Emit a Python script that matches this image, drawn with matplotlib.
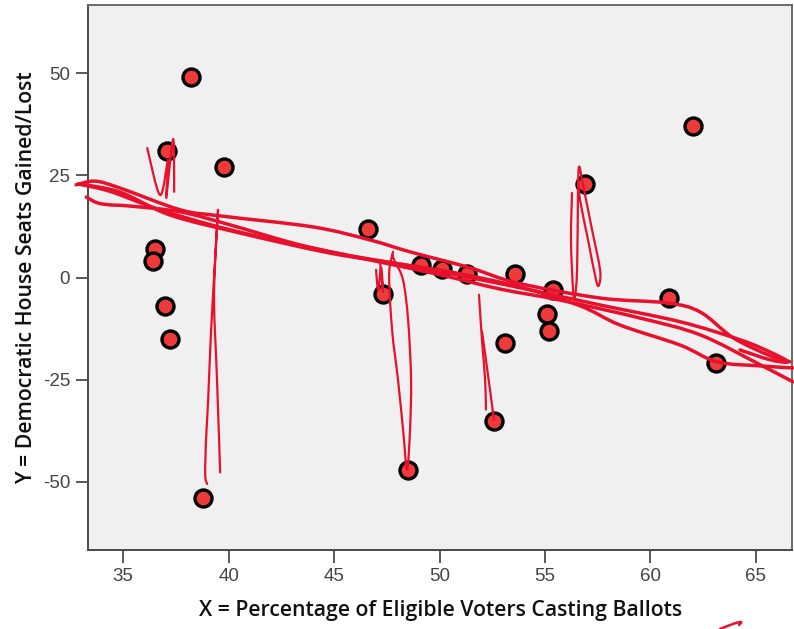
import matplotlib
matplotlib.use("Agg")
import matplotlib.pyplot as plt
from matplotlib.path import Path
from matplotlib.patches import PathPatch

# turnout (%) vs democratic house seats gained/lost
turnout = [38.2, 37.1, 39.8, 46.6, 36.5, 36.4, 37.0, 37.2, 38.8, 47.3, 48.5,
           49.1, 50.1, 51.3, 53.6, 55.4, 55.1, 55.2, 53.1, 52.6, 56.9, 62.0,
           60.9, 63.1]
seats = [49, 31, 27, 12, 7, 4, -7, -15, -54, -4, -47,
         3, 2, 1, 1, -3, -9, -13, -16, -35, 23, 37,
         -5, -21]

x_ticks = [35, 40, 45, 50, 55, 60, 65]
y_ticks = [-50, -25, 0, 25, 50]

# hand-drawn red pen strokes over the chart (data coords)
band_1 = [(32.77, 22.7), (33.67, 23.6), (34.86, 21.9), (37.70, 16.6), (39.60, 15.1),
          (44.00, 12.4), (46.71, 9.2), (48.60, 6.3), (51.45, 2.4), (53.67, -1.3),
          (57.61, -5.0), (60.78, -6.2), (62.35, -8.4), (63.91, -14.7),
          (65.66, -19.1), (66.61, -20.6)]
band_2 = [(32.87, 22.9), (34.38, 21.1), (36.75, 16.6), (40.07, 11.7), (44.81, 6.3),
          (48.13, 3.3), (50.50, 1.4), (53.82, -2.3), (56.66, -6.9), (58.55, -11.6),
          (61.40, -16.5), (63.15, -20.6), (65.19, -21.6), (66.75, -22.1)]
band_3 = [(32.96, 22.9), (34.86, 20.9), (37.23, 15.3), (40.55, 10.9), (44.81, 6.0),
          (48.60, 2.9), (51.45, 0.0), (54.29, -3.0), (57.61, -6.7), (61.40, -10.8),
          (64.24, -15.2), (65.66, -18.2), (66.52, -20.6), (65.66, -20.1),
          (64.24, -17.7)]
band_4 = [(33.25, 19.7), (33.77, 18.3), (34.38, 17.8), (35.33, 17.5), (37.70, 16.1),
          (40.07, 12.9), (43.39, 8.0), (47.18, 3.8), (50.02, 0.7), (52.87, -2.8),
          (55.71, -5.5), (59.50, -9.9), (62.35, -14.0), (65.19, -21.3),
          (66.75, -25.5)]
scribble_1 = [(36.14, 31.7), (36.75, 20.2), (37.13, 28.8), (37.04, 19.5),
              (37.37, 33.9), (37.42, 21.0)]
scribble_2 = [(39.60, -47.7), (39.45, -25.0), (39.31, -5.5), (39.41, 9.2),
              (39.50, 16.6), (39.36, 4.3), (39.17, -12.8), (39.03, -29.9),
              (38.93, -39.7), (38.89, -48.2), (38.98, -50.5)]
scribble_3 = [(46.99, 1.9), (47.09, -3.0), (47.23, 2.4), (47.32, -3.5), (47.18, 3.8)]
scribble_4 = [(47.80, 6.3), (47.61, 0.7), (47.75, -12.8), (48.03, -25.0),
              (48.27, -37.2), (48.46, -47.0), (48.60, -37.2), (48.65, -25.0),
              (48.51, -10.4), (48.27, -0.6), (47.89, 3.8), (47.75, 5.6)]
scribble_5 = [(51.87, -4.2), (52.01, -15.2), (52.16, -25.0), (52.20, -32.3)]
scribble_6 = [(52.01, -13.2), (52.20, -20.1), (52.58, -34.8)]
scribble_7 = [(56.28, 20.7), (56.23, 9.2), (56.33, -3.0), (56.42, -4.7),
              (56.52, 1.9), (56.56, 19.0), (56.61, 27.1), (56.80, 22.7),
              (57.23, 11.7), (57.61, 1.9), (57.56, -1.8), (57.42, -0.6),
              (57.04, 9.2), (56.66, 19.0), (56.56, 23.9)]
pen_tick = [(63.29, -86.0), (64.00, -84.6), (64.30, -84.3), (64.20, -85.0)]

bands = [band_1, band_2, band_3, band_4]
scribbles = [scribble_1, scribble_2, scribble_3, scribble_4, scribble_5,
             scribble_6, scribble_7]

PEN = "#e8112d"


def pen_path(points):
    # catmull-rom style bezier through the stroke points, so the pen looks smooth
    verts = [points[0]]
    codes = [Path.MOVETO]
    n = len(points)
    for i in range(n - 1):
        p0 = points[max(i - 1, 0)]
        p1 = points[i]
        p2 = points[i + 1]
        p3 = points[min(i + 2, n - 1)]
        c1 = (p1[0] + (p2[0] - p0[0]) / 6, p1[1] + (p2[1] - p0[1]) / 6)
        c2 = (p2[0] - (p3[0] - p1[0]) / 6, p2[1] - (p3[1] - p1[1]) / 6)
        verts += [c1, c2, p2]
        codes += [Path.CURVE4] * 3
    return Path(verts, codes)


def draw_stroke(ax, points, lw):
    patch = PathPatch(pen_path(points), facecolor="none", edgecolor=PEN, lw=lw,
                      capstyle="round", joinstyle="round", zorder=4,
                      transform=ax.transData, clip_on=False)
    ax.add_patch(patch)


fig = plt.figure(figsize=(7.94, 6.29), dpi=100)
ax = fig.add_axes([0.111, 0.126, 0.8865, 0.866])
ax.set_facecolor("#f0f0f0")

ax.scatter(turnout, seats, s=150, c="#ef3a3a", edgecolors="black",
           linewidths=2.4, zorder=3)

for stroke in bands:
    draw_stroke(ax, stroke, 2.5)
for stroke in scribbles:
    draw_stroke(ax, stroke, 1.6)
draw_stroke(ax, pen_tick, 1.8)

ax.set_xlim(33.34, 66.71)
ax.set_ylim(-66.6, 66.7)
ax.set_xticks(x_ticks)
ax.set_yticks(y_ticks)
ax.set_xticklabels([str(t) for t in x_ticks])
ax.set_yticklabels([str(t) for t in y_ticks])

for side in ["left", "bottom", "top", "right"]:
    ax.spines[side].set_color("#4a4a4a")
    ax.spines[side].set_linewidth(1.4)
ax.spines["top"].set_color("#6a6a6a")
ax.spines["right"].set_color("#6a6a6a")

ax.tick_params(direction="out", length=9, width=1.3, color="#4a4a4a",
               labelcolor="#444444", labelsize=13.5, pad=4)
for lab in ax.get_xticklabels() + ax.get_yticklabels():
    lab.set_family("Liberation Sans")

ax.set_xlabel("X = Percentage of Eligible Voters Casting Ballots",
              fontsize=15.3, fontweight="semibold", family="Open Sans",
              color="#111111", labelpad=11)
ax.set_ylabel("Y = Democratic House Seats Gained/Lost",
              fontsize=15.3, fontweight="semibold", family="Open Sans",
              color="#111111", labelpad=4)

fig.savefig("out.png", dpi=100)
